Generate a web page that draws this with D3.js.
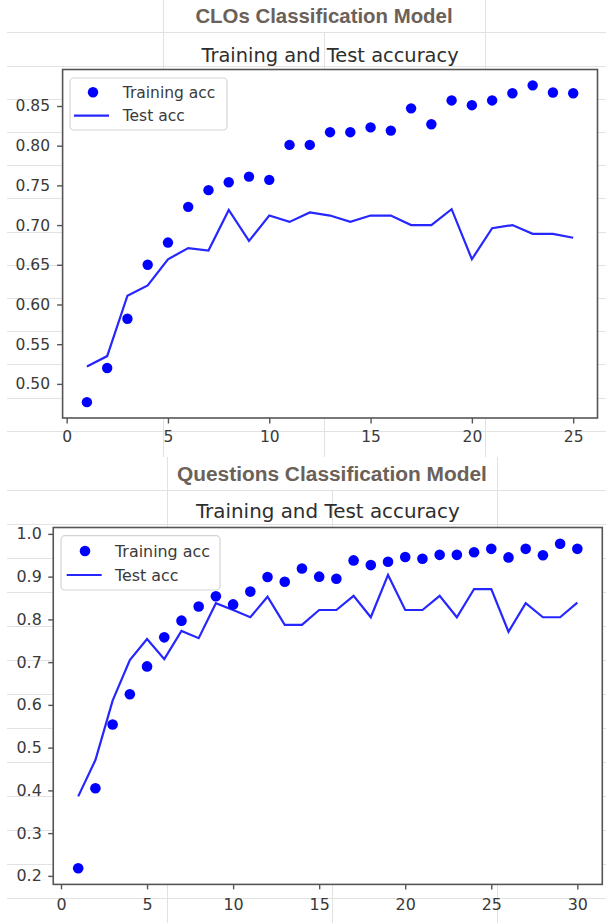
<!DOCTYPE html>
<html>
<head>
<meta charset="utf-8">
<script src="https://cdn.jsdelivr.net/npm/d3@7"></script>
<style>
  body { margin: 0; background: #fff; }
  svg { display: block; }
</style>
</head>
<body>
<svg id="page" width="606" height="923"></svg>
<script>
// ---- CLOs classification model: accuracy per epoch ----
const closEpochs = [1,2,3,4,5,6,7,8,9,10,11,12,13,14,15,16,17,18,19,20,21,22,23,24,25];
const closTrainAcc = [0.477,0.520,0.582,0.650,0.678,0.723,0.744,0.754,0.761,0.757,0.801,0.801,0.817,0.817,0.823,0.819,0.847,0.827,0.857,0.851,0.857,0.866,0.876,0.867,0.866];
const closTestAcc = [0.522,0.535,0.611,0.624,0.657,0.671,0.668,0.719,0.680,0.712,0.704,0.716,0.712,0.704,0.712,0.712,0.700,0.700,0.720,0.657,0.696,0.700,0.689,0.689,0.684];
const closXTicks = [0,5,10,15,20,25];
const closYTicks = [0.50,0.55,0.60,0.65,0.70,0.75,0.80,0.85];

// ---- Questions classification model: accuracy per epoch ----
const questionsEpochs = [1,2,3,4,5,6,7,8,9,10,11,12,13,14,15,16,17,18,19,20,21,22,23,24,25,26,27,28,29,30];
const questionsTrainAcc = [0.218,0.405,0.554,0.625,0.690,0.758,0.797,0.830,0.854,0.835,0.865,0.899,0.888,0.919,0.900,0.895,0.938,0.927,0.935,0.946,0.942,0.951,0.951,0.957,0.965,0.945,0.965,0.950,0.977,0.965];
const questionsTestAcc = [0.386,0.471,0.610,0.705,0.754,0.707,0.773,0.756,0.838,0.822,0.805,0.853,0.787,0.787,0.822,0.822,0.855,0.805,0.904,0.822,0.822,0.855,0.805,0.871,0.871,0.771,0.838,0.805,0.805,0.839];
const questionsXTicks = [0,5,10,15,20,25,30];
const questionsYTicks = [0.2,0.3,0.4,0.5,0.6,0.7,0.8,0.9,1.0];

const seriesLabels = ["Training acc", "Test acc"];
const subtitle = "Training and Test accuracy";

const BLUE = "#0000ff";
const LINE_BLUE = "#2626ff";
const GRID = "#e2e2e2";
const INK = "#3a3a3a";
const SPINE = "#555";
const MPL_FONT = "'DejaVu Sans', Verdana, sans-serif";
const SHEET_FONT = "'Liberation Sans', Arial, sans-serif";

const svg = d3.select("#page");

// ---- sheet cell borders behind both charts ----
const sheet = svg.append("g").attr("class", "sheet-grid")
  .attr("stroke", GRID).attr("stroke-width", 1).attr("shape-rendering", "crispEdges");

function sheetSection(rows, cols, mergedRowBottom, yTop, yBottom) {
  rows.forEach(y => sheet.append("line")
    .attr("x1", 7).attr("x2", 606).attr("y1", Math.round(y) + 0.5).attr("y2", Math.round(y) + 0.5));
  cols.forEach((x, i) => {
    const start = (i === 1) ? mergedRowBottom : yTop;
    sheet.append("line")
      .attr("x1", Math.round(x) + 0.5).attr("x2", Math.round(x) + 0.5)
      .attr("y1", start).attr("y2", yBottom);
  });
}
sheetSection([32.3,65.5,98.7,131.9,165.1,198.3,231.5,264.7,297.9,331.1,364.3,397.5,430.7],
             [163,324,485], 32.3, 0, 457);
sheetSection([489.7,523.7,557.7,591.7,625.7,659.7,693.7,727.7,761.7,795.7,829.7,863.7,897.7],
             [166.7,332,497], 489.7, 457, 923);

// ---- one matplotlib-style accuracy chart ----
function drawChart(cfg) {
  const g = svg.append("g");
  const f = cfg.frame;

  // heading in the merged sheet cell
  g.append("text")
    .attr("x", cfg.heading.cx).attr("y", cfg.heading.y)
    .attr("text-anchor", "middle")
    .attr("font-family", SHEET_FONT).attr("font-weight", "bold")
    .attr("font-size", cfg.heading.fs).attr("fill", "#6b6158")
    .text(cfg.heading.text);

  // chart title
  g.append("text")
    .attr("x", (f.l + f.r) / 2).attr("y", cfg.titleY)
    .attr("text-anchor", "middle")
    .attr("font-family", MPL_FONT).attr("font-size", cfg.titleFs).attr("fill", "#2e2e2e")
    .text(subtitle);

  const x = d3.scaleLinear().domain(cfg.xDomain).range([f.l, f.r]);
  const allVals = cfg.train.concat(cfg.test);
  const lo = d3.min(allVals), hi = d3.max(allVals), pad = (hi - lo) * 0.05;
  const y = d3.scaleLinear().domain([lo - pad, hi + pad]).range([f.b, f.t]);

  // white axes face hides the sheet borders
  g.append("rect").attr("x", f.l).attr("y", f.t)
    .attr("width", f.r - f.l).attr("height", f.b - f.t).attr("fill", "#fff");

  // axes
  const xAxis = g.append("g").attr("transform", `translate(0,${f.b})`)
    .call(d3.axisBottom(x).tickValues(cfg.xTicks).tickFormat(d3.format("d"))
      .tickSize(cfg.tick).tickPadding(cfg.xPad));
  const yAxis = g.append("g").attr("transform", `translate(${f.l},0)`)
    .call(d3.axisLeft(y).tickValues(cfg.yTicks).tickFormat(d3.format(cfg.yFmt))
      .tickSize(cfg.tick).tickPadding(cfg.yPad));
  [xAxis, yAxis].forEach(a => {
    a.select(".domain").remove();
    a.selectAll(".tick line").attr("stroke", SPINE).attr("stroke-width", 1.4);
    a.selectAll(".tick text").attr("fill", INK)
      .attr("font-family", MPL_FONT).attr("font-size", cfg.fs);
  });

  // test accuracy line
  const line = d3.line().x((d, i) => x(cfg.epochs[i])).y(d => y(d));
  g.append("path").datum(cfg.test)
    .attr("d", line).attr("fill", "none")
    .attr("stroke", LINE_BLUE).attr("stroke-width", 2.2).attr("stroke-linejoin", "miter");

  // training accuracy points
  g.append("g").selectAll("circle").data(cfg.train).join("circle")
    .attr("cx", (d, i) => x(cfg.epochs[i])).attr("cy", d => y(d))
    .attr("r", cfg.dotR).attr("fill", BLUE);

  // frame
  g.append("rect").attr("x", f.l).attr("y", f.t)
    .attr("width", f.r - f.l).attr("height", f.b - f.t)
    .attr("fill", "none").attr("stroke", SPINE).attr("stroke-width", 1.6);

  // legend
  const L = cfg.legend;
  const lg = g.append("g");
  lg.append("rect").attr("x", L.x).attr("y", L.y).attr("width", L.w).attr("height", L.h)
    .attr("rx", 4).attr("fill", "#fff").attr("fill-opacity", 0.85)
    .attr("stroke", "#d4d4d4").attr("stroke-width", 1.2);
  lg.append("circle").attr("cx", L.markX).attr("cy", L.row1).attr("r", cfg.dotR).attr("fill", BLUE);
  lg.append("line").attr("x1", L.lineX1).attr("x2", L.lineX2)
    .attr("y1", L.row2).attr("y2", L.row2)
    .attr("stroke", LINE_BLUE).attr("stroke-width", 2.2);
  [L.row1, L.row2].forEach((ry, i) => {
    lg.append("text").attr("x", L.textX).attr("y", ry).attr("dy", "0.36em")
      .attr("font-family", MPL_FONT).attr("font-size", cfg.fs).attr("fill", INK)
      .text(seriesLabels[i]);
  });
}

drawChart({
  heading: { text: "CLOs Classification Model", cx: 324, y: 23.3, fs: 20.4 },
  titleY: 61.7, titleFs: 19.4, fs: 15.5,
  frame: { l: 62.6, r: 597.5, t: 69.5, b: 418 },
  xDomain: [-0.2, 26.2],
  epochs: closEpochs, train: closTrainAcc, test: closTestAcc,
  xTicks: closXTicks, yTicks: closYTicks, yFmt: ".2f",
  tick: 5.5, xPad: 7.8, yPad: 7, dotR: 5.2,
  legend: { x: 70, y: 78, w: 157, h: 52, markX: 93, lineX1: 74, lineX2: 109,
            textX: 122.7, row1: 92.3, row2: 115.7 }
});

drawChart({
  heading: { text: "Questions Classification Model", cx: 331.9, y: 480.7, fs: 20.9 },
  titleY: 518, titleFs: 19.9, fs: 15.9,
  frame: { l: 53.25, r: 602.3, t: 527.5, b: 884.4 },
  xDomain: [-0.45, 31.45],
  epochs: questionsEpochs, train: questionsTrainAcc, test: questionsTestAcc,
  xTicks: questionsXTicks, yTicks: questionsYTicks, yFmt: ".1f",
  tick: 5, xPad: 9, yPad: 6.5, dotR: 5.3,
  legend: { x: 61, y: 535.7, w: 159, h: 54.3, markX: 85, lineX1: 66.7, lineX2: 101.7,
            textX: 115, row1: 551, row2: 575 }
});
</script>
</body>
</html>
